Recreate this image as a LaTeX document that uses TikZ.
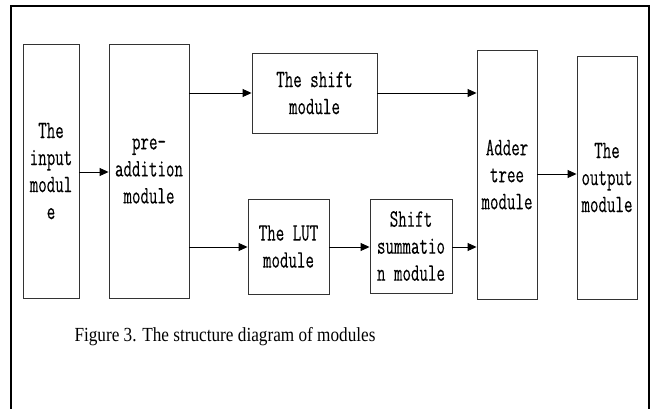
\documentclass[tikz,border=0pt]{standalone}
\usepackage{fontspec}
\usetikzlibrary{arrows.meta}
\newfontfamily\boxfont{Latin Modern Mono}[FakeStretch=0.66,FakeBold=0.25]
\newfontfamily\capfont{Liberation Serif}[FakeStretch=0.86]
\begin{document}
\begin{tikzpicture}[x=1pt,y=-1pt,
  mod/.style={draw=black!80,line width=0.9pt,align=center,inner sep=0pt,
    font=\boxfont\fontsize{25}{27}\selectfont},
  arr/.style={line width=0.9pt,-{Triangle[length=9pt,width=8pt]}}]
\useasboundingbox (0,0) rectangle (656,409);
\draw[line width=2pt] (11,412) -- (11,6) -- (649,6) -- (649,412);
\node[mod,minimum width=56pt,minimum height=254pt] (in) at (51,171) {The\\input\\modul\\e};
\node[mod,minimum width=80pt,minimum height=254pt] (pre) at (149,171) {pre-\\addition\\module};
\node[mod,minimum width=125pt,minimum height=80pt] (sh) at (314.5,93) {The shift\\module};
\node[mod,minimum width=81pt,minimum height=95pt] (lut) at (288.5,246.5) {The LUT\\module};
\node[mod,minimum width=82pt,minimum height=94pt] (ss) at (411,246) {Shift\\summatio\\n module};
\node[mod,minimum width=60pt,minimum height=249pt] (ad) at (507,174.5) {Adder\\tree\\module};
\node[mod,minimum width=60pt,minimum height=243pt] (out) at (607,177.5) {The\\output\\module};
\coordinate (p1) at (189,93);
\coordinate (p2) at (189,247);
\draw[arr] (in.east |- 0,172) -- (pre.west |- 0,172);
\draw[arr] (p1) -- (sh.west |- p1);
\draw[arr] (p2) -- (lut.west |- p2);
\draw[arr] (sh.east) -- (ad.west |- sh.east);
\draw[arr] (lut.east |- p2) -- (ss.west |- p2);
\draw[arr] (ss.east |- p2) -- (ad.west |- p2);
\draw[arr] (ad.east |- 0,174) -- (out.west |- 0,174);
\node[font=\capfont\fontsize{20}{24}\selectfont,anchor=base] (cap) at (225,341) {Figure 3. The structure diagram of modules};
\end{tikzpicture}
\end{document}
